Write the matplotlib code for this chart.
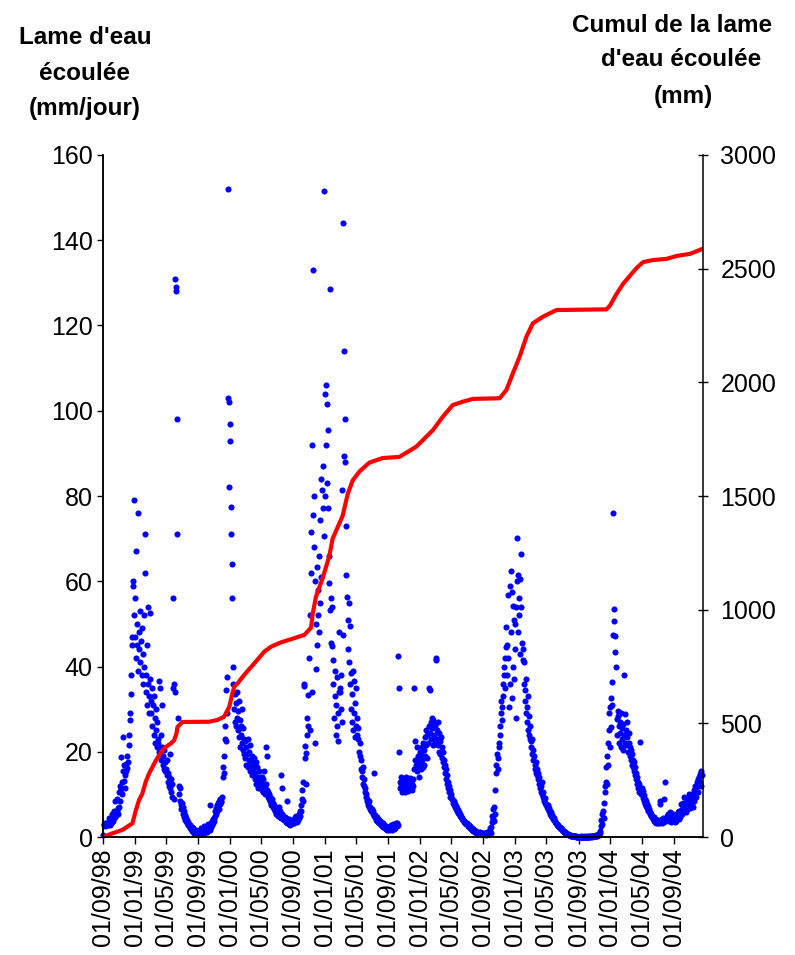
import numpy as np
import matplotlib
matplotlib.use("Agg")
import matplotlib.pyplot as plt
import matplotlib.dates as mdates

plt.rcParams['font.family'] = ['Liberation Sans', 'DejaVu Sans']

# lame d'eau ecoulee (mm/jour), une valeur tous les 2 jours a partir du 1er septembre
q_9899 = [0.5, 2.8, 3.0, 2.6, 3.2, 2.9, 3.4, 2.7, 3.0, 3.3, 2.8, 4.5, 3.1, 2.9, 3.6,
          3.2, 4.0, 3.5, 5.5, 4.2, 3.8, 5.8, 6.0, 4.6, 8.5, 5.2, 6.2, 9.0, 5.5, 6.8,
          7.0, 10.5, 12.0, 8.5, 11.2, 18.8, 12.8, 10.0, 15.5, 23.5, 13.2, 16.8, 11.5, 14.6, 17.2,
          15.5, 16.2, 19.0, 17.5, 21.5, 24.0, 29.0, 27.5, 38.0, 33.5, 45.0, 47.0, 59.0, 60.0, 79.0, 52.0,
          56.0, 47.0, 67.0, 42.0, 50.0, 45.0, 39.0, 76.0, 48.0, 44.0, 53.0, 41.0, 46.0, 38.0, 49.0,
          43.0, 36.0, 52.0, 40.0, 62.0, 71.0, 38.0, 34.0, 45.0, 31.0, 36.0, 54.0, 33.0, 29.0,
          52.5, 37.0, 32.0, 29.0, 35.0, 26.0, 31.0, 24.0, 33.0, 28.0, 22.0, 30.0, 25.0, 21.0, 27.0, 23.0,
          22.0, 20.0, 36.5, 35.0, 19.5, 24.0, 18.0, 21.0, 31.0, 17.0, 19.0, 16.0, 20.5, 15.5, 17.5,
          16.0, 14.5, 18.0, 13.0, 15.0, 12.0, 14.0, 11.5, 19.5, 10.5, 13.5, 9.5, 12.5, 35.0, 56.0,
          9.0, 36.0, 34.0, 131.0, 129.0, 128.0, 98.0, 71.0, 28.0, 12.0, 10.0, 8.5, 11.5, 7.5, 6.5,
          8.0, 6.5, 7.0, 5.5, 6.0, 4.8, 5.2, 4.0, 4.5, 3.8, 3.2, 4.0, 2.8, 3.5, 2.6, 3.0,
          2.2, 2.8, 1.8, 2.4, 1.5, 2.0, 1.2, 1.6, 1.0, 1.4, 0.8, 1.2, 1.6, 0.9, 1.3]

q_9900 = [1.0, 0.6, 1.5, 0.8, 1.2, 2.0, 0.7, 1.1, 1.8, 0.9, 1.4, 2.5, 1.0, 1.6, 2.2,
          1.5, 2.0, 1.2, 2.6, 1.8, 3.0, 2.2, 1.6, 7.5, 3.2, 2.4, 3.8, 2.8, 4.2, 3.4,
          3.8, 4.5, 5.0, 6.2, 5.5, 6.8, 7.5, 6.0, 8.0, 7.0, 8.5, 6.5, 9.0, 7.8, 8.2,
          8.5, 9.5, 14.0, 16.5, 19.0, 15.0, 23.0, 26.0, 22.5, 34.5, 37.5, 29.0, 152.0, 103.0, 102.0, 82.0,
          97.0, 93.0, 77.5, 71.0, 64.0, 56.0, 40.0, 36.0, 30.0, 33.5, 27.0, 31.5, 26.0, 34.0, 28.0,
          29.5, 25.0, 32.0, 23.5, 27.5, 21.0, 26.0, 24.0, 30.0, 22.0, 20.5, 25.5, 19.5, 23.0,
          22.5, 18.5, 21.0, 17.0, 19.5, 23.0, 16.5, 20.0, 18.0, 15.5, 21.5, 17.5, 16.0, 19.0, 14.5, 17.0,
          16.0, 14.5, 18.5, 13.5, 15.0, 17.5, 12.5, 14.0, 16.5, 13.0, 11.5, 15.5, 12.0, 14.0, 13.0,
          12.5, 14.0, 11.0, 13.5, 10.5, 12.0, 15.5, 11.5, 10.0, 12.5, 21.0, 19.0, 11.0, 9.5, 10.5,
          9.0, 10.0, 8.5, 9.5, 8.0, 7.5, 9.0, 7.0, 8.0, 6.5, 7.5, 6.0, 7.0, 6.5, 5.5,
          6.0, 5.5, 6.5, 5.0, 7.0, 5.2, 4.8, 6.0, 4.5, 14.5, 11.5, 5.5, 4.2, 5.0, 4.0, 4.6,
          4.0, 3.6, 4.4, 3.2, 8.5, 4.0, 3.5, 3.0, 4.2, 3.8, 2.8, 3.4, 4.0, 3.2, 3.6]

q_0001 = [3.4, 4.0, 3.2, 4.6, 3.8, 5.0, 4.2, 3.6, 4.8, 4.0, 5.5, 4.5, 6.0, 5.0, 7.5,
          6.0, 9.0, 11.0, 13.0, 8.5, 36.0, 35.5, 18.6, 21.3, 19.8, 12.5, 24.0, 28.0, 26.0, 33.4,
          42.0, 25.0, 52.0, 62.0, 71.5, 34.0, 92.0, 133.0, 75.5, 68.0, 80.0, 22.0, 60.0, 50.0, 39.5,
          45.0, 63.4, 52.0, 58.0, 48.0, 66.0, 55.0, 74.3, 61.0, 84.0, 81.5, 77.3, 87.0, 151.5, 70.6, 80.0,
          104.0, 92.0, 106.0, 83.0, 101.5, 95.4, 77.3, 66.0, 59.6, 53.3, 128.5, 56.0, 45.5, 44.9, 54.0,
          41.5, 36.0, 28.0, 39.0, 33.0, 24.0, 31.0, 26.0, 37.5, 22.5, 29.0, 34.0, 48.0, 35.0,
          34.0, 30.0, 38.0, 27.0, 81.4, 47.5, 144.0, 114.0, 89.4, 98.0, 88.0, 73.0, 61.4, 56.4, 51.0, 44.0,
          55.0, 41.0, 49.5, 36.0, 30.0, 38.5, 27.0, 33.5, 39.0, 25.0, 36.6, 29.0, 23.5, 31.5, 26.0,
          35.0, 24.0, 28.0, 23.0, 25.5, 20.0, 22.0, 19.0, 16.0, 18.0, 15.5, 14.0, 16.5, 12.5, 13.5,
          12.0, 10.5, 11.5, 9.5, 10.0, 8.5, 9.0, 7.5, 8.0, 7.0, 8.5, 6.5, 7.0, 6.0, 6.5,
          6.5, 5.5, 6.0, 5.0, 15.0, 4.8, 5.2, 4.5, 4.0, 4.6, 3.8, 4.2, 3.6, 4.0, 3.3, 3.8,
          3.2, 3.5, 2.8, 3.0, 2.6, 3.2, 2.4, 2.8, 2.2, 2.0, 2.5, 1.8, 2.2, 1.6, 2.0]

q_0102 = [2.0, 1.6, 2.4, 1.8, 2.2, 2.8, 1.7, 2.5, 2.0, 3.0, 2.3, 1.9, 2.6, 2.2, 3.2,
          3.0, 2.6, 3.4, 2.8, 42.5, 35.0, 20.0, 13.0, 11.5, 14.0, 12.0, 10.5, 13.5, 11.0, 12.5,
          11.5, 13.0, 10.5, 12.0, 14.0, 11.0, 12.5, 13.5, 10.8, 12.2, 11.0, 13.8, 12.0, 11.5, 13.0,
          12.5, 11.0, 13.5, 12.0, 16.0, 35.0, 18.0, 22.5, 17.0, 21.0, 15.5, 19.0, 16.5, 14.0, 18.5, 20.0,
          17.5, 19.5, 16.0, 21.0, 18.0, 22.0, 16.5, 20.5, 17.0, 23.5, 19.0, 25.0, 21.5, 18.5, 24.0,
          22.0, 26.0, 35.0, 34.5, 24.5, 27.0, 23.0, 28.0, 25.5, 21.5, 27.5, 24.0, 26.5, 22.5,
          26.0, 41.5, 42.0, 25.0, 23.0, 27.0, 21.5, 24.5, 20.0, 22.5, 19.5, 23.5, 18.5, 21.0, 17.5, 20.0,
          18.0, 16.5, 17.0, 15.0, 16.0, 13.5, 14.5, 12.5, 13.0, 11.5, 12.0, 10.5, 11.0, 9.5, 10.0,
          9.5, 8.8, 9.0, 8.0, 8.5, 7.5, 7.8, 7.0, 7.2, 6.5, 6.8, 6.0, 6.3, 5.6, 5.8,
          5.5, 5.0, 5.3, 4.6, 4.9, 4.2, 4.5, 3.9, 4.1, 3.6, 3.8, 3.3, 3.5, 3.0, 3.2,
          3.0, 2.8, 2.6, 2.9, 2.4, 2.2, 2.5, 2.0, 1.8, 2.1, 1.6, 1.9, 1.4, 1.7, 1.3, 1.5,
          1.2, 1.0, 1.4, 0.9, 1.1, 0.8, 1.0, 0.7, 0.9, 1.2, 0.6, 0.8, 1.0, 0.7, 0.9]

q_0203 = [0.8, 0.6, 0.9, 0.7, 1.0, 0.5, 0.8, 1.2, 0.6, 0.9, 1.1, 0.7, 1.4, 2.0, 1.0,
          2.4, 3.5, 5.0, 4.2, 6.5, 3.8, 7.0, 5.5, 11.0, 15.0, 17.0, 19.5, 16.0, 18.5, 21.0,
          22.0, 26.0, 24.0, 29.0, 32.0, 27.5, 30.5, 36.0, 33.0, 40.0, 38.0, 35.0, 42.0, 49.3, 44.5,
          45.0, 38.0, 42.0, 56.7, 30.5, 59.0, 36.0, 62.4, 48.0, 57.5, 32.7, 54.2, 40.0, 37.0, 51.0, 44.0,
          50.0, 54.0, 28.0, 60.0, 70.1, 48.0, 61.5, 56.0, 52.0, 60.5, 43.0, 54.0, 66.4, 45.5, 41.5,
          44.0, 36.0, 41.0, 32.0, 34.5, 29.0, 37.0, 27.0, 30.5, 25.0, 33.0, 24.0, 28.5, 23.0,
          26.0, 22.5, 21.0, 23.0, 19.5, 20.5, 18.0, 19.0, 17.0, 16.0, 17.5, 15.0, 16.0, 14.5, 15.0, 13.5,
          14.0, 12.5, 13.0, 11.5, 12.0, 10.5, 13.0, 10.0, 9.5, 10.5, 9.0, 8.5, 9.2, 8.0, 7.5,
          7.8, 7.0, 7.4, 6.5, 6.8, 6.0, 6.2, 5.5, 5.8, 5.0, 5.2, 4.6, 4.8, 4.2, 4.4,
          4.0, 3.6, 3.8, 3.2, 3.4, 2.9, 3.0, 2.6, 2.7, 2.3, 2.4, 2.0, 2.1, 1.8, 1.9,
          1.6, 1.4, 1.5, 1.2, 1.3, 1.0, 1.1, 0.9, 0.9, 0.7, 0.8, 0.6, 0.6, 0.5, 0.5, 0.4,
          0.4, 0.3, 0.3, 0.3, 0.2, 0.3, 0.2, 0.2, 0.2, 0.2, 0.1, 0.2, 0.1, 0.1, 0.1]

q_0304 = [0.1, 0.1, 0.1, 0.1, 0.2, 0.1, 0.1, 0.1, 0.1, 0.1, 0.2, 0.1, 0.1, 0.1, 0.1,
          0.1, 0.1, 0.2, 0.1, 0.1, 0.2, 0.1, 0.1, 0.2, 0.2, 0.1, 0.2, 0.3, 0.2, 0.2,
          0.2, 0.3, 0.2, 0.3, 0.4, 0.3, 0.5, 0.4, 0.6, 0.5, 0.8, 1.0, 1.5, 2.5, 4.0,
          3.0, 5.5, 6.0, 4.5, 8.0, 12.0, 10.5, 13.0, 16.5, 12.5, 19.0, 22.0, 17.0, 25.0, 29.0, 21.0,
          30.5, 25.8, 32.7, 31.0, 36.3, 76.0, 47.4, 53.5, 50.7, 43.5, 47.2, 40.0, 27.8, 24.0, 29.5,
          28.5, 26.0, 22.0, 27.0, 24.5, 29.0, 21.0, 25.5, 23.0, 26.5, 20.5, 24.0, 38.0, 22.0,
          28.8, 25.0, 21.5, 27.0, 23.5, 20.0, 24.5, 22.0, 19.0, 21.0, 18.0, 20.5, 17.0, 19.5, 16.5, 18.0,
          17.5, 15.5, 16.5, 14.5, 15.0, 13.5, 14.0, 12.5, 13.0, 11.5, 12.5, 10.5, 11.0, 22.3, 10.0,
          11.5, 10.0, 10.8, 9.2, 9.8, 8.5, 9.0, 7.8, 8.4, 7.2, 7.8, 6.8, 7.2, 6.2, 6.6,
          6.0, 5.5, 5.8, 5.0, 5.4, 4.6, 5.0, 4.2, 4.6, 3.8, 4.2, 3.5, 4.0, 3.4, 3.8,
          3.6, 4.0, 3.4, 3.8, 3.2, 8.5, 7.8, 4.0, 3.5, 4.2, 3.3, 3.8, 4.5, 3.6, 9.0, 4.0,
          12.8, 4.5, 5.0, 4.2, 5.5, 4.8, 3.8, 5.2, 4.0, 5.8, 4.4, 3.6, 5.0, 4.6, 5.5]

q_0405 = [4.0, 5.0, 3.6, 4.6, 5.2, 3.8, 5.0, 4.4, 5.8, 4.2, 6.0, 5.5, 4.8, 7.8, 5.6,
          6.5, 5.5, 8.0, 6.0, 7.0, 9.5, 6.8, 8.0, 5.8, 7.2, 9.0, 6.5, 8.5, 7.0, 10.0,
          7.5, 8.5, 6.8, 9.5, 8.0, 10.0, 7.0, 9.0, 11.0, 8.5, 10.5, 12.0, 9.5, 11.5, 13.0,
          12.0, 13.5, 10.5, 14.0, 12.5, 14.8, 13.0, 15.5, 12.0, 14.5]

q_starts = ['1998-09-01', '1999-09-01', '2000-09-01', '2001-09-01',
            '2002-09-01', '2003-09-01', '2004-09-01']
q_years = [q_9899, q_9900, q_0001, q_0102, q_0203, q_0304, q_0405]

# cumul de la lame d'eau ecoulee (mm)
cumul_dates = ['1998-09-01', '1998-10-07', '1998-11-14', '1998-12-23', '1999-01-05',
               '1999-01-17', '1999-01-30', '1999-02-12', '1999-02-25', '1999-03-10',
               '1999-03-23', '1999-04-04', '1999-04-17', '1999-04-30', '1999-05-19',
               '1999-06-01', '1999-06-10', '1999-06-14', '1999-06-27', '1999-07-03',
               '1999-10-14', '1999-11-15', '1999-12-10', '1999-12-30', '2000-01-11',
               '2000-01-18', '2000-01-31', '2000-02-25', '2000-04-04', '2000-05-12',
               '2000-06-07', '2000-07-15', '2000-08-23', '2000-09-24', '2000-10-13',
               '2000-11-08', '2000-11-14', '2000-11-27', '2000-12-22', '2001-01-17',
               '2001-01-30', '2001-03-09', '2001-03-29', '2001-04-17', '2001-05-13',
               '2001-06-20', '2001-08-10', '2001-10-13', '2001-12-17', '2002-02-19',
               '2002-03-29', '2002-05-06', '2002-06-14', '2002-07-22', '2002-11-02',
               '2002-11-28', '2002-12-23', '2003-01-18', '2003-02-13', '2003-03-10',
               '2003-04-18', '2003-06-08', '2003-12-17', '2003-12-30', '2004-01-25',
               '2004-02-19', '2004-03-16', '2004-04-11', '2004-05-06', '2004-06-14',
               '2004-08-04', '2004-09-12', '2004-11-02', '2004-12-22']
cumul_mm = [0, 16, 31, 60, 117,
            161, 191, 243, 279, 308,
            337, 359, 381, 396, 411,
            425, 455, 484, 499, 506,
            507, 515, 529, 573, 632,
            661, 676, 713, 764, 815,
            837, 856, 870, 882, 889,
            921, 980, 1058, 1137, 1236,
            1313, 1412, 1510, 1569, 1608,
            1647, 1667, 1672, 1717, 1790,
            1849, 1900, 1915, 1927, 1930,
            1966, 2040, 2113, 2201, 2260,
            2289, 2318, 2321, 2336, 2389,
            2433, 2468, 2503, 2529, 2538,
            2543, 2556, 2565, 2588]

fig = plt.figure(figsize=(7.95, 9.55), dpi=100)
ax = fig.add_axes([103 / 795, 1 - 837 / 955, 600 / 795, 682 / 955])
ax2 = ax.twinx()

for start, q in zip(q_starts, q_years):
    d = np.datetime64(start) + np.arange(len(q)) * np.timedelta64(2, 'D')
    ax.plot(d, q, 'o', ms=4.4, mew=0, color='#0000ff', clip_on=False)

ax2.plot(np.array(cumul_dates, dtype='datetime64[D]'), cumul_mm,
         color='#ff0000', lw=3, solid_joinstyle='round')

ax.set_xlim(np.datetime64('1998-09-01'), np.datetime64('2004-12-22'))
ax.set_ylim(0, 160)
ax2.set_ylim(0, 3000)
ax.set_yticks(range(0, 161, 20))
ax2.set_yticks(range(0, 3001, 500))

ax.xaxis.set_major_locator(mdates.MonthLocator(bymonth=[1, 5, 9]))
ax.xaxis.set_major_formatter(mdates.DateFormatter('%d/%m/%y'))
plt.setp(ax.get_xticklabels(), rotation=90)

ax.tick_params(axis='x', direction='out', length=5, width=1, pad=3, labelsize=18)
ax.tick_params(axis='y', direction='out', length=4.5, width=1, pad=3, labelsize=18)
ax2.tick_params(axis='y', direction='inout', length=7, width=1, pad=9, labelsize=18)

for a in (ax, ax2):
    a.spines['top'].set_visible(False)
    for s in a.spines.values():
        s.set_linewidth(1.1)
ax.spines['right'].set_visible(False)

left_title = ["Lame d'eau", "écoulée", "(mm/jour)"]
for txt, y in zip(left_title, [38, 73, 108]):
    fig.text(85 / 795, 1 - y / 955, txt, ha='center', va='center',
             fontsize=17.5, fontweight='bold')
right_title = ["Cumul de la lame", "d'eau écoulée", "(mm)"]
for txt, x, y in zip(right_title, [672, 681, 683], [25, 60, 97]):
    fig.text(x / 795, 1 - y / 955, txt, ha='center', va='center',
             fontsize=17.5, fontweight='bold')

fig.savefig('out.png', dpi=100)
